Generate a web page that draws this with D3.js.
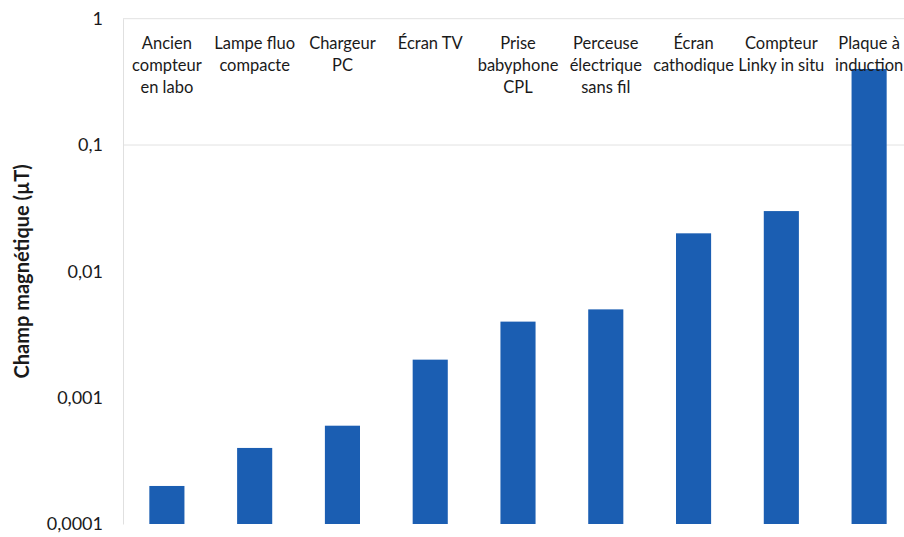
<!DOCTYPE html>
<html>
<head>
<meta charset="utf-8">
<script src="https://cdn.jsdelivr.net/npm/d3@7"></script>
<style>
  body { margin: 0; background: #fff; }
  svg { display: block; font-family: Lato, "Open Sans", sans-serif; }
</style>
</head>
<body>
<div id="chart"></div>
<script>
// données
const categories = [
  "Ancien\ncompteur\nen labo",
  "Lampe fluo\ncompacte",
  "Chargeur\nPC",
  "Écran TV",
  "Prise\nbabyphone\nCPL",
  "Perceuse\nélectrique\nsans fil",
  "Écran\ncathodique",
  "Compteur\nLinky in situ",
  "Plaque à\ninduction"
];
const values = [0.0002, 0.0004, 0.0006, 0.002, 0.004, 0.005, 0.02, 0.03, 0.4];
const tickValues = [1, 0.1, 0.01, 0.001, 0.0001];
const tickLabels = ["1", "0,1", "0,01", "0,001", "0,0001"];
const gridValues = [1, 0.1];
const yTitle = "Champ magnétique (µT)";

const W = 904, H = 537;
const margin = {top: 18.7, right: -9, bottom: 13, left: 123};

const svg = d3.select("#chart").append("svg")
    .attr("width", W)
    .attr("height", H);

const x = d3.scaleBand()
    .domain(categories)
    .range([margin.left, W - margin.right])
    .paddingInner(0.6)
    .paddingOuter(0.3);

const y = d3.scaleLog()
    .domain([0.0001, 1])
    .range([H - margin.bottom, margin.top]);

// quadrillage
svg.append("g")
  .selectAll("line")
  .data(gridValues)
  .join("line")
    .attr("x1", margin.left)
    .attr("x2", W)
    .attr("y1", d => y(d))
    .attr("y2", d => y(d))
    .attr("stroke", "#e2e2e2")
    .attr("stroke-width", 1);

// axe vertical
const yAxis = d3.axisLeft(y)
    .tickValues(tickValues)
    .tickFormat((d, i) => tickLabels[i])
    .tickSize(0)
    .tickPadding(20);

const yAxisGroup = svg.append("g")
    .attr("transform", `translate(${margin.left},0)`)
    .call(yAxis);
yAxisGroup.select(".domain").attr("stroke", "#e0e0e0");
yAxisGroup.selectAll("text")
    .attr("fill", "#1a1a1a")
    .style("font-family", "Lato, sans-serif")
    .style("font-size", "18px");

// barres
svg.append("g")
  .selectAll("rect")
  .data(values)
  .join("rect")
    .attr("x", (d, i) => x(categories[i]))
    .attr("width", x.bandwidth())
    .attr("y", d => y(d))
    .attr("height", d => y(0.0001) - y(d))
    .attr("fill", "#1b5eb2");

// libellés des catégories en haut
const labels = svg.append("g")
  .selectAll("text")
  .data(categories)
  .join("text")
    .attr("x", d => x(d) + x.bandwidth() / 2)
    .attr("y", 49)
    .attr("text-anchor", "middle")
    .attr("fill", "#1a1a1a")
    .style("font-size", "16.5px");

labels.selectAll("tspan")
  .data(d => d.split("\n"))
  .join("tspan")
    .attr("x", function() { return this.parentNode.getAttribute("x"); })
    .attr("dy", (d, i) => i === 0 ? 0 : 22)
    .text(d => d);

// titre de l'axe
svg.append("text")
    .attr("transform", `translate(29,${(y(1) + y(0.0001)) / 2}) rotate(-90)`)
    .attr("text-anchor", "middle")
    .attr("fill", "#1a1a1a")
    .style("font-size", "20px")
    .style("font-weight", "bold")
    .text(yTitle);
</script>
</body>
</html>
